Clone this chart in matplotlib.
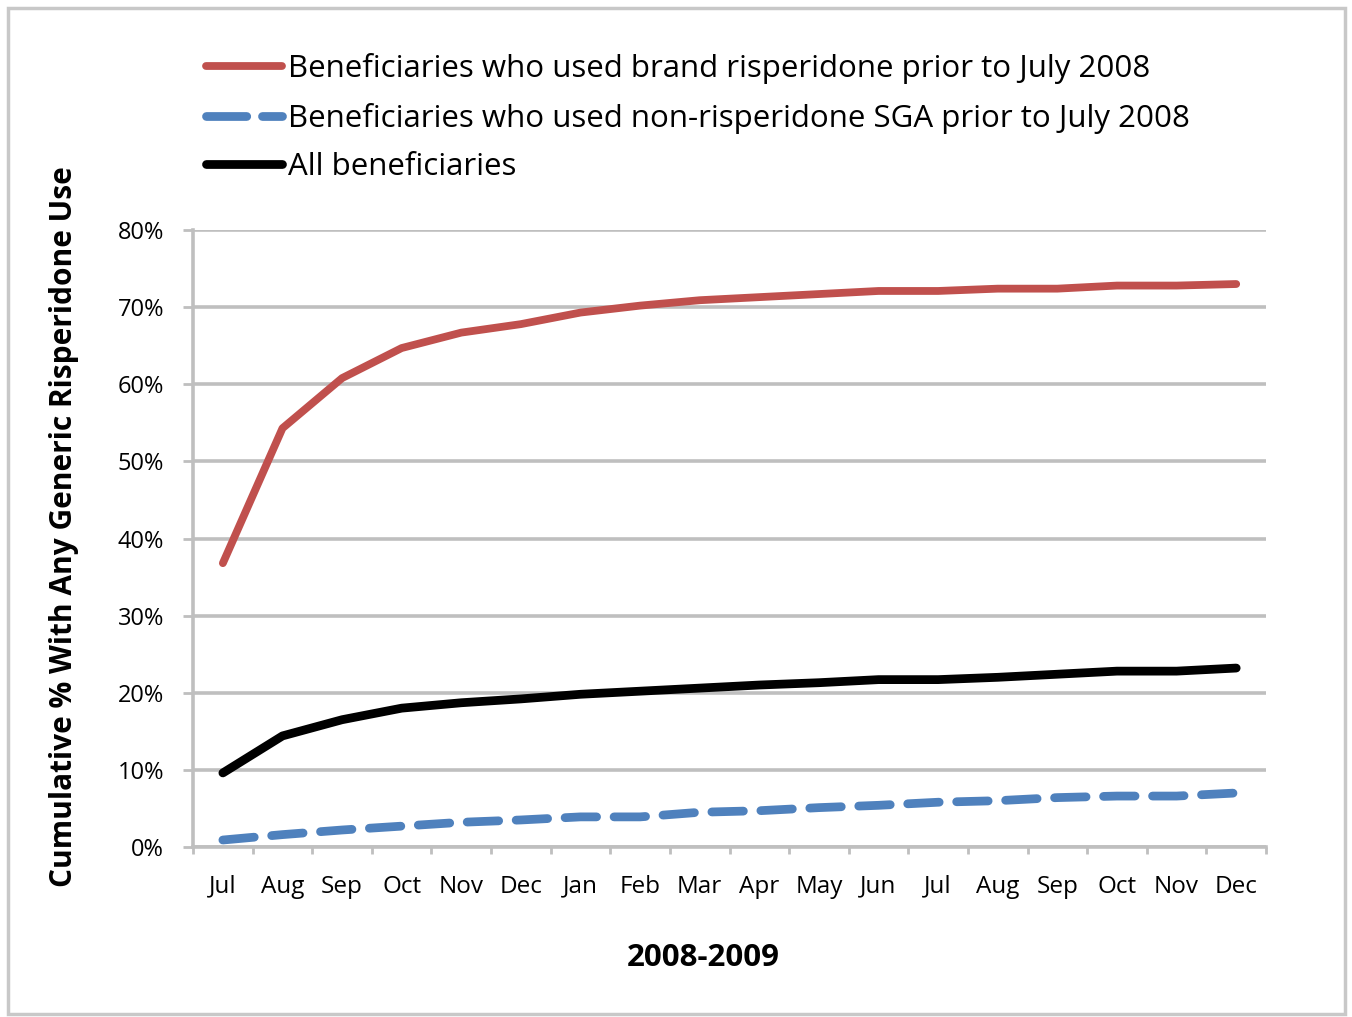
import matplotlib.pyplot as plt
from matplotlib.lines import Line2D
from matplotlib.patches import Rectangle
import numpy as np

# =========================
# data
# =========================
months = ["Jul", "Aug", "Sep", "Oct", "Nov", "Dec", "Jan", "Feb", "Mar",
          "Apr", "May", "Jun", "Jul", "Aug", "Sep", "Oct", "Nov", "Dec"]

brand_risp = [36.8, 54.3, 60.8, 64.7, 66.7, 67.8, 69.3, 70.2, 70.9,
              71.3, 71.7, 72.1, 72.1, 72.4, 72.4, 72.8, 72.8, 73.0]
non_risp_sga = [0.9, 1.6, 2.2, 2.7, 3.2, 3.5, 3.9, 3.9, 4.5,
                4.7, 5.1, 5.4, 5.8, 6.0, 6.4, 6.6, 6.6, 7.0]
all_benef = [9.6, 14.4, 16.5, 18.0, 18.7, 19.2, 19.8, 20.2, 20.6,
             21.0, 21.3, 21.7, 21.7, 22.0, 22.4, 22.8, 22.8, 23.2]

labels = [
    "Beneficiaries who used brand risperidone prior to July 2008",
    "Beneficiaries who used non-risperidone SGA prior to July 2008",
    "All beneficiaries",
]

plt.rcParams["font.family"] = ["Open Sans", "DejaVu Sans"]

fig = plt.figure(figsize=(13.52, 10.17), dpi=100)
ax = fig.add_axes([0.1428, 0.1672, 0.7936, 0.6066])

# outer frame
fig.patches.append(Rectangle((0.006, 0.003), 0.989, 0.989, transform=fig.transFigure,
                             fill=False, edgecolor="#c8c8c8", linewidth=2.5))

x = np.arange(len(months))
red, blue = "#C0504D", "#4F81BD"

ax.plot(x, brand_risp, color=red, lw=5.6, solid_capstyle="round", solid_joinstyle="round")
ax.plot(x, non_risp_sga, color=blue, lw=6.3, dashes=(3.6, 2.0), dash_capstyle="round")
ax.plot(x, all_benef, color="black", lw=6.3, solid_capstyle="round", solid_joinstyle="round")

ax.set_xlim(-0.5, len(months) - 0.5)
ax.set_ylim(0, 80)
ax.set_yticks(np.arange(0, 81, 10))
ax.set_yticklabels([f"{v}%" for v in range(0, 81, 10)])
ax.yaxis.grid(True, color="#bfbfbf", lw=2.6)
ax.set_axisbelow(True)

ax.set_xticks(x)
ax.set_xticklabels(months)
ax.set_xticks(np.arange(-0.5, len(months), 1), minor=True)
ax.tick_params(axis="x", which="major", length=0, pad=20, labelsize=17.5)
ax.tick_params(axis="x", which="minor", length=5, width=2, color="#bfbfbf")
ax.tick_params(axis="y", length=7, width=2, color="#bfbfbf", pad=14, labelsize=17)

for s in ["top", "right"]:
    ax.spines[s].set_visible(False)
for s in ["left", "bottom"]:
    ax.spines[s].set_color("#bfbfbf")
    ax.spines[s].set_linewidth(2.6)

ax.set_ylabel("Cumulative % With Any Generic Risperidone Use", fontsize=21.5,
              fontweight="bold")
ax.yaxis.set_label_coords(-0.106, 0.519)
fig.text(0.52, 0.058, "2008-2009", fontsize=22.5, fontweight="bold", ha="center", va="center")

# =========================
# legend
# =========================
handles = [
    Line2D([], [], color=red, lw=5.6, solid_capstyle="round"),
    Line2D([], [], color=blue, lw=6.3, dashes=(4.6, 1.8), dash_capstyle="round"),
    Line2D([], [], color="black", lw=6.3, solid_capstyle="round"),
]
fig.legend(handles, labels, loc="upper left", bbox_to_anchor=(0.152, 0.948),
           frameon=False, fontsize=22.5, handlelength=2.45, handletextpad=0.2,
           labelspacing=0.6, borderaxespad=0, borderpad=0)

plt.savefig("out.png", dpi=100)
